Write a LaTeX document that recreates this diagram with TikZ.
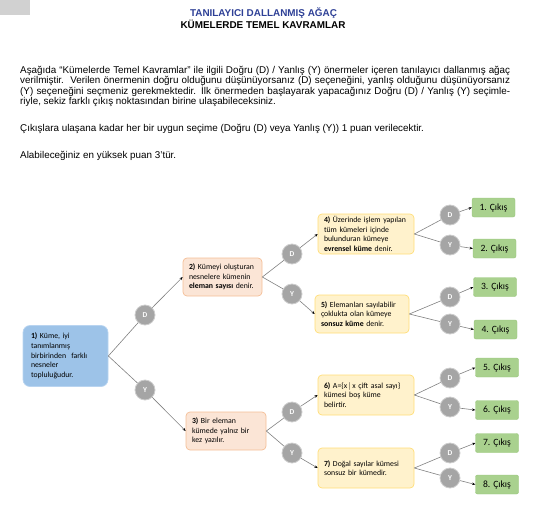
\documentclass[tikz,border=0pt]{standalone}
\usepackage{fontspec}
\setmainfont{Liberation Sans}
\newfontfamily\calibri{Carlito}
\usetikzlibrary{positioning,arrows.meta,shapes,calc}
\definecolor{titleblue}{RGB}{46,64,150}
\definecolor{startfill}{RGB}{157,195,232}
\definecolor{startdraw}{RGB}{185,212,240}
\definecolor{peachfill}{RGB}{251,229,214}
\definecolor{peachdraw}{RGB}{244,190,150}
\definecolor{lemonfill}{RGB}{255,242,204}
\definecolor{lemondraw}{RGB}{255,222,120}
\definecolor{exitfill}{RGB}{169,209,142}
\definecolor{exitdraw}{RGB}{150,196,120}
\definecolor{choicegray}{RGB}{165,165,165}
\definecolor{choiceedge}{RGB}{205,205,205}
\definecolor{linkgray}{RGB}{128,128,128}

\begin{document}
\begin{tikzpicture}[x=1pt,y=-1pt,
  qbox/.style={draw,rounded corners=4pt,align=left,line width=0.7pt,
               font=\calibri\fontsize{7.8}{9.7}\selectfont,inner xsep=6pt,inner ysep=2pt},
  choice/.style={circle,fill=choicegray,draw=choiceedge,line width=0.8pt,
                 minimum size=20pt,inner sep=0pt,text=white,font=\calibri\fontsize{7.5}{8}\selectfont\bfseries},
  exitbox/.style={draw=exitdraw,fill=exitfill,rounded corners=2pt,minimum width=43pt,
                  minimum height=19pt,inner sep=0pt,font=\calibri\fontsize{9.6}{10}\selectfont},
  lnk/.style={draw=linkgray,line width=0.6pt},
  arr/.style={lnk,-{Stealth[length=3.2pt,width=2.6pt,color=black]}}
]
\useasboundingbox (0,0) rectangle (537,511);
\fill[black!18] (0,0) rectangle (30,15);

% Heading and instructions
\node[anchor=base,inner sep=0pt,text=titleblue,font=\bfseries\fontsize{9.9}{11}\selectfont] (title) at (263.5,16.5) {TANILAYICI DALLANMIŞ AĞAÇ};
\node[anchor=base,inner sep=0pt,font=\bfseries\fontsize{9.9}{11}\selectfont] (subtitle) at (263,28.5) {KÜMELERDE TEMEL KAVRAMLAR};
\node[anchor=base west,inner sep=0pt,text width=490pt,align=justify,font=\fontsize{9.85}{9.8}\selectfont] (intro) at (20,73.5)
  {Aşağıda “Kümelerde Temel Kavramlar” ile ilgili Doğru (D) / Yanlış (Y) önermeler içeren tanılayıcı dallanmış ağaç\linebreak
   verilmiştir.\ \ Verilen önermenin doğru olduğunu düşünüyorsanız (D) seçeneğini, yanlış olduğunu düşünüyorsanız\linebreak
   (Y) seçeneğini seçmeniz gerekmektedir. İlk önermeden başlayarak yapacağınız Doğru (D) / Yanlış (Y) seçimle-\linebreak
   riyle, sekiz farklı çıkış noktasından birine ulaşabileceksiniz.};
\node[anchor=base west,inner sep=0pt,font=\fontsize{9.85}{9.8}\selectfont] (points) at (20,131) {Çıkışlara ulaşana kadar her bir uygun seçime (Doğru (D) veya Yanlış (Y)) 1 puan verilecektir.};
\node[anchor=base west,inner sep=0pt,font=\fontsize{9.85}{9.8}\selectfont] (maxpts) at (20,158) {Alabileceğiniz en yüksek puan 3'tür.};

% Statements
\node[qbox,fill=startfill,draw=startdraw,rounded corners=7pt,inner xsep=8pt,text width=69pt,minimum height=61pt] (s1) at (65.5,356)
  {\textbf{1)} Küme, iyi\\tanımlanmış\\birbirinden\ \ farklı\\nesneler\\topluluğudur.};
\node[qbox,fill=peachfill,draw=peachdraw,text width=67pt,minimum height=38pt] (s2) at (222.5,277)
  {\textbf{2)} Kümeyi oluşturan\\nesnelere kümenin\\\textbf{eleman sayısı} denir.};
\node[qbox,fill=peachfill,draw=peachdraw,text width=68pt,minimum height=38pt] (s3) at (226,431)
  {\textbf{3)} Bir eleman\\kümede yalnız bir\\kez yazılır.};
\node[qbox,fill=lemonfill,draw=lemondraw,text width=84pt,minimum height=40pt] (s4) at (366,234)
  {\textbf{4)} Üzerinde işlem yapılan\\tüm kümeleri içinde\\bulunduran kümeye\\\textbf{evrensel küme} denir.};
\node[qbox,fill=lemonfill,draw=lemondraw,text width=82pt,minimum height=38pt] (s5) at (362,314)
  {\textbf{5)} Elemanları sayılabilir\\çoklukta olan kümeye\\\textbf{sonsuz küme} denir.};
\node[qbox,fill=lemonfill,draw=lemondraw,text width=84pt,minimum height=40pt] (s6) at (366,395)
  {\textbf{6)} A=\{x$\,|\,$x çift asal sayı\}\\kümesi boş küme\\belirtir.};
\node[qbox,fill=lemonfill,draw=lemondraw,text width=84pt,minimum height=40pt] (s7) at (366,468)
  {\textbf{7)} Doğal sayılar kümesi\\sonsuz bir kümedir.};

% D / Y choices
\node[choice] (d1) at (145,315) {D};
\node[choice] (y1) at (145,390) {Y};
\node[choice] (d2) at (292,254) {D};
\node[choice] (y2) at (292,294) {Y};
\node[choice] (d3) at (292,412) {D};
\node[choice] (y3) at (292,453) {Y};
\node[choice] (d4) at (450,215) {D};
\node[choice] (y4) at (450,245) {Y};
\node[choice] (d5) at (450,297) {D};
\node[choice] (y5) at (450,324) {Y};
\node[choice] (d6) at (450,378) {D};
\node[choice] (y6) at (450,407) {Y};
\node[choice] (d7) at (450,453) {D};
\node[choice] (y7) at (450,478) {Y};

% Exits
\node[exitbox] (e1) at (493.5,207.5) {1. Çıkış};
\node[exitbox] (e2) at (494.5,248.5) {2. Çıkış};
\node[exitbox] (e3) at (495,287) {3. Çıkış};
\node[exitbox] (e4) at (495.5,329.5) {4. Çıkış};
\node[exitbox] (e5) at (497,367.5) {5. Çıkış};
\node[exitbox] (e6) at (497,410) {6. Çıkış};
\node[exitbox] (e7) at (497,443) {7. Çıkış};
\node[exitbox] (e8) at (497,484.5) {8. Çıkış};

% Branches
\foreach \src/\dn/\yn/\dt/\yt in {s1/d1/y1/s2/s3, s2/d2/y2/s4/s5, s3/d3/y3/s6/s7,
    s4/d4/y4/e1/e2, s5/d5/y5/e3/e4, s6/d6/y6/e5/e6, s7/d7/y7/e7/e8} {
  \draw[lnk] (\src.east) -- (\dn);
  \draw[lnk] (\src.east) -- (\yn);
  \draw[arr] (\dn) -- (\dt.west);
  \draw[arr] (\yn) -- (\yt.west);
}
\end{tikzpicture}
\end{document}
